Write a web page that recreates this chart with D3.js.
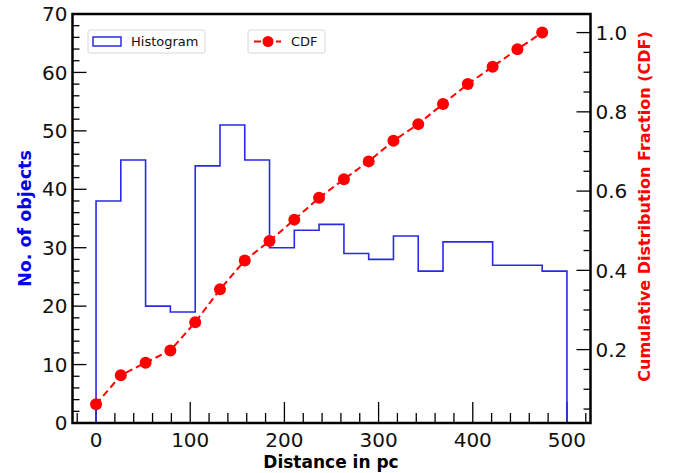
<!DOCTYPE html>
<html>
<head>
<meta charset="utf-8">
<script src="https://cdn.jsdelivr.net/npm/d3@7"></script>
<style>
  body { margin: 0; background: white; }
  svg { font-family: "DejaVu Sans", sans-serif; }
</style>
</head>
<body>
<svg width="680" height="473"></svg>
<script>
// histogram bins (19 bins between 0 and 500 pc)
var binEdges = [0, 26.3, 52.6, 78.9, 105.3, 131.6, 157.9, 184.2, 210.5, 236.8,
  263.2, 289.5, 315.8, 342.1, 368.4, 394.7, 421.1, 447.4, 473.7, 500];
var counts = [38, 45, 20, 19, 44, 51, 45, 30, 33, 34, 29, 28, 32, 26, 31, 31, 27, 27, 26];

// CDF points at each bin's left edge
var cdfX = binEdges.slice(0, 19);
var cdfY = [0.062, 0.135, 0.167, 0.198, 0.269, 0.352, 0.425, 0.474, 0.528, 0.583,
  0.630, 0.675, 0.727, 0.769, 0.820, 0.870, 0.914, 0.958, 1.0];

var xTicks = [0, 100, 200, 300, 400, 500];
var yTicks = [0, 10, 20, 30, 40, 50, 60, 70];
var y2Ticks = [0.2, 0.4, 0.6, 0.8, 1.0];

// plot box (window.top is reserved, so prefixed names)
var pLeft = 72.5, pRight = 590.5, pTop = 14, pBottom = 423;

var svg = d3.select("svg");

var x = d3.scaleLinear().domain([-25, 525]).range([pLeft, pRight]);
var y = d3.scaleLinear().domain([0, 70]).range([pBottom, pTop]);
var y2 = d3.scaleLinear().domain([0.0148, 1.0469]).range([pBottom, pTop]);

// ticks (pointing inward)
var tickG = svg.append("g").attr("stroke", "black").attr("stroke-width", 1.3);

d3.range(0, 71, 2).forEach(function (v) {
  var major = v % 10 == 0;
  tickG.append("line")
    .attr("x1", pLeft).attr("x2", pLeft + (major ? 14 : 7))
    .attr("y1", y(v)).attr("y2", y(v));
});

d3.range(-20, 521, 20).forEach(function (v) {
  var major = v % 100 == 0;
  tickG.append("line")
    .attr("x1", x(v)).attr("x2", x(v))
    .attr("y1", pBottom).attr("y2", pBottom - (major ? 21 : 10));
});

d3.range(0.05, 1.0001, 0.05).forEach(function (v) {
  var major = Math.abs(v * 5 - Math.round(v * 5)) < 1e-6;
  tickG.append("line")
    .attr("x1", pRight).attr("x2", pRight - (major ? 14 : 7))
    .attr("y1", y2(v)).attr("y2", y2(v));
});

// histogram outline as steps
var stepPts = [[0, 0]];
for (let i = 0; i < counts.length; i++) {
  stepPts.push([binEdges[i], counts[i]]);
  stepPts.push([binEdges[i + 1], counts[i]]);
}
stepPts.push([500, 0]);

var line = d3.line()
  .x(function (d) { return x(d[0]); })
  .y(function (d) { return y(d[1]); });

svg.append("path")
  .attr("d", line(stepPts))
  .attr("fill", "none")
  .attr("stroke", "#2a2ae6")
  .attr("stroke-width", 1.6);

// CDF dashed line + markers
var cdfData = cdfX.map(function (d, i) { return { x: d, y: cdfY[i] }; });

svg.append("path")
  .attr("d", d3.line().x(function (d) { return x(d.x); }).y(function (d) { return y2(d.y); })(cdfData))
  .attr("fill", "none")
  .attr("stroke", "#ff0000")
  .attr("stroke-width", 2)
  .attr("stroke-dasharray", "7,4");

svg.selectAll("circle.cdf")
  .data(cdfData)
  .enter()
  .append("circle")
  .attr("class", "cdf")
  .attr("cx", function (d) { return x(d.x); })
  .attr("cy", function (d) { return y2(d.y); })
  .attr("r", 6)
  .attr("fill", "#ff0000");

// tick labels
svg.selectAll("text.yl")
  .data(yTicks)
  .enter()
  .append("text")
  .attr("x", pLeft - 5)
  .attr("y", function (d) { return y(d); })
  .attr("dy", "0.36em")
  .attr("text-anchor", "end")
  .attr("font-size", 20)
  .attr("fill", "#111")
  .text(function (d) { return d; });

svg.selectAll("text.xl")
  .data(xTicks)
  .enter()
  .append("text")
  .attr("x", function (d) { return x(d); })
  .attr("y", pBottom + 24)
  .attr("text-anchor", "middle")
  .attr("font-size", 20)
  .attr("fill", "#111")
  .text(function (d) { return d; });

svg.selectAll("text.y2l")
  .data(y2Ticks)
  .enter()
  .append("text")
  .attr("x", pRight + 5)
  .attr("y", function (d) { return y2(d); })
  .attr("dy", "0.36em")
  .attr("text-anchor", "start")
  .attr("font-size", 20)
  .attr("fill", "#111")
  .text(function (d) { return d.toFixed(1); });

// frame
svg.append("rect")
  .attr("x", pLeft).attr("y", pTop)
  .attr("width", pRight - pLeft).attr("height", pBottom - pTop)
  .attr("fill", "none")
  .attr("stroke", "black")
  .attr("stroke-width", 2.5);

// axis labels
svg.append("text")
  .attr("x", 331)
  .attr("y", 468)
  .attr("text-anchor", "middle")
  .attr("font-size", 17)
  .attr("font-weight", "bold")
  .text("Distance in pc");

svg.append("text")
  .attr("transform", "translate(30.5,218.5) rotate(-90)")
  .attr("text-anchor", "middle")
  .attr("font-size", 17.5)
  .attr("font-weight", "bold")
  .attr("fill", "#0000ee")
  .text("No. of objects");

svg.append("text")
  .attr("transform", "translate(650,206.5) rotate(-90)")
  .attr("text-anchor", "middle")
  .attr("font-size", 16)
  .attr("font-weight", "bold")
  .attr("fill", "#ff0000")
  .text("Cumulative Distribution Fraction (CDF)");

// legends
var leg1 = svg.append("g");
leg1.append("rect")
  .attr("x", 88).attr("y", 30).attr("width", 117).attr("height", 23).attr("rx", 2)
  .attr("fill", "white").attr("stroke", "#d8d8d8");
leg1.append("rect")
  .attr("x", 93).attr("y", 37).attr("width", 28).attr("height", 9)
  .attr("fill", "none").attr("stroke", "#2a2ae6").attr("stroke-width", 1.5);
leg1.append("text")
  .attr("x", 131).attr("y", 46).attr("font-size", 13).attr("fill", "#111")
  .text("Histogram");

var leg2 = svg.append("g");
leg2.append("rect")
  .attr("x", 248).attr("y", 30).attr("width", 77).attr("height", 23).attr("rx", 2)
  .attr("fill", "white").attr("stroke", "#d8d8d8");
leg2.append("line")
  .attr("x1", 254).attr("x2", 281).attr("y1", 41.5).attr("y2", 41.5)
  .attr("stroke", "#ff0000").attr("stroke-width", 2).attr("stroke-dasharray", "7,4");
leg2.append("circle")
  .attr("cx", 268).attr("cy", 41.5).attr("r", 5.5).attr("fill", "#ff0000");
leg2.append("text")
  .attr("x", 291).attr("y", 46).attr("font-size", 13).attr("fill", "#111")
  .text("CDF");
</script>
</body>
</html>
